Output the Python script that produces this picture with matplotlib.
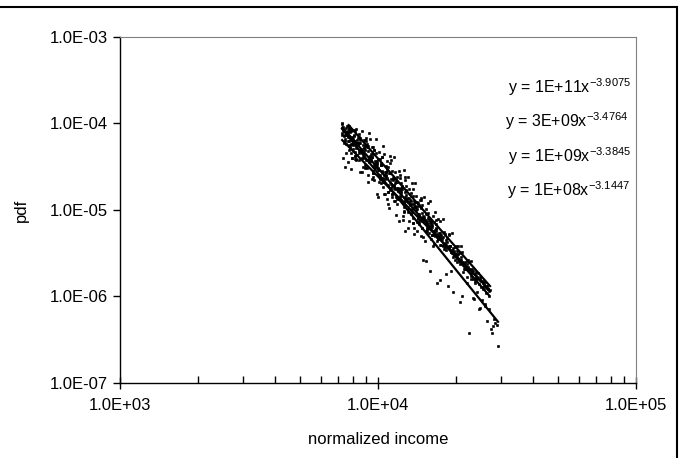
import numpy as np
import matplotlib.pyplot as plt
from matplotlib.patches import Rectangle
from matplotlib.ticker import FixedLocator, FuncFormatter, LogLocator, NullLocator

plt.rcParams['font.family'] = ['Liberation Sans', 'DejaVu Sans']
plt.rcParams['mathtext.fontset'] = 'custom'
plt.rcParams['mathtext.rm'] = 'Liberation Sans'

# values, stored as log10(normalized income) and log10(pdf)
log_x_a = [3.860, 3.866, 3.873, 3.880, 3.887, 3.894, 3.902, 3.910, 3.918, 3.926,
           3.934, 3.942, 3.950, 3.958, 3.966, 3.974, 3.982, 3.990, 3.998, 4.006,
           4.014, 4.022, 4.030, 4.038, 4.046, 4.054, 4.062, 4.070, 4.078, 4.086,
           4.094, 4.102, 4.110, 4.118, 4.126, 4.134, 4.142, 4.150, 4.158, 4.166,
           4.174, 4.182, 4.190, 4.202, 4.210, 4.218, 4.229, 4.236, 4.245, 4.254,
           4.263, 4.271, 4.280, 4.291, 4.300, 4.309, 4.318, 4.329, 4.338, 4.346,
           4.353, 4.362, 4.368, 4.376, 4.385, 4.395, 4.404, 4.413, 4.422, 4.431,
           4.437, 4.442, 4.448, 4.454, 4.461, 4.465,
           3.870, 3.884, 3.898, 3.912, 3.928, 3.946, 3.962, 3.978, 3.994, 4.010,
           4.026, 4.042, 4.058, 4.074, 4.090, 4.106, 4.122, 4.138, 4.154, 4.170,
           4.186, 4.198, 4.214, 4.240, 4.258, 4.282, 4.306, 4.326, 4.344, 4.372,
           4.390, 4.416, 4.446,
           4.205, 4.225, 4.245, 4.265, 4.285, 4.305, 4.325, 4.345, 4.365, 4.385,
           4.405, 4.425, 3.862, 3.872, 3.882, 3.892, 3.902, 3.912]
log_y_a = [-3.995, -4.075, -4.174, -4.100, -4.198, -4.336, -4.177, -4.328, -4.189, -4.340,
           -4.292, -4.503, -4.304, -4.235, -4.446, -4.358, -4.619, -4.470, -4.411, -4.632,
           -4.544, -4.815, -4.556, -4.707, -4.568, -4.850, -4.721, -5.062, -4.753, -4.864,
           -4.736, -5.017, -4.898, -5.209, -4.900, -5.092, -4.903, -5.244, -5.075, -4.976,
           -5.578, -5.139, -5.210, -5.707, -5.198, -5.239, -5.842, -5.269, -5.405, -5.400,
           -5.735, -5.876, -5.421, -5.944, -5.579, -5.514, -6.069, -5.712, -5.677, -5.839,
           -6.426, -5.801, -6.014, -5.845, -5.950, -6.130, -6.045, -6.090, -6.285, -6.150,
           -6.373, -6.423, -6.266, -6.310, -6.327, -6.573,
           -4.142, -4.087, -4.401, -4.226, -4.418, -4.278, -4.601, -4.393, -4.346, -4.688,
           -4.600, -4.973, -4.625, -4.878, -4.690, -5.242, -4.925, -5.207, -4.920, -5.212,
           -5.584, -5.121, -5.413, -5.805, -5.385, -5.709, -5.522, -6.000, -5.771, -6.030,
           -6.150, -6.111, -6.338,
           -5.149, -5.207, -5.325, -5.343, -5.461, -5.479, -5.597, -5.625, -5.733, -5.771,
           -5.889, -5.917, -4.131, -4.200, -4.199, -4.288, -4.297, -4.376]

log_x_b = [3.886, 3.893, 3.898, 3.887, 3.896, 3.905, 3.914, 3.923, 3.932, 3.941,
           3.950, 3.959, 3.968, 3.977, 3.986, 3.995, 4.004, 4.013, 4.022, 4.031,
           4.040, 4.049, 4.058, 4.067, 4.076, 4.085, 4.094, 4.103, 4.112, 4.121,
           4.130, 4.139, 4.148, 4.157, 4.166, 4.175, 4.184, 4.193, 4.203, 4.213,
           4.223, 4.233, 4.244, 4.255, 4.266, 4.277, 4.289, 4.301, 4.313, 4.326,
           4.339, 4.352, 4.366, 4.380, 4.394, 4.408, 4.421, 4.434,
           3.889, 3.895, 3.900, 3.892, 3.901, 3.910, 3.919, 3.928, 3.937, 3.946,
           3.955, 3.964, 3.973, 3.982, 3.991, 4.000, 4.009, 4.018, 4.027, 4.036,
           4.045, 4.054, 4.063, 4.072, 4.081, 4.090, 4.099, 4.108, 4.117, 4.126,
           4.135, 4.144, 4.153, 4.162, 4.171, 4.180, 4.190, 4.200, 4.210, 4.220,
           4.230, 4.240, 4.250, 4.262, 4.274, 4.286, 4.298, 4.310, 4.322, 4.335,
           4.348, 4.361, 4.374, 4.387, 4.400, 4.414, 4.427,
           3.891, 3.895, 3.910, 3.925, 3.940, 3.955, 3.970, 3.985, 4.000, 4.015,
           4.030, 4.045, 4.060, 4.075, 4.090, 4.105, 4.120, 4.135, 4.150, 4.165,
           4.180, 4.195, 4.210, 4.225, 4.240, 4.260, 4.280, 4.300, 4.320, 4.345,
           4.370, 4.395, 4.420]
log_y_b = [-4.030, -4.056, -4.070, -4.149, -4.070, -4.142, -4.063, -4.234, -4.166, -4.337,
           -4.188, -4.270, -4.181, -4.382, -4.303, -4.485, -4.326, -4.477, -4.349, -4.590,
           -4.501, -4.423, -4.654, -4.565, -4.777, -4.598, -4.719, -4.621, -4.862, -4.763,
           -4.685, -4.926, -4.837, -4.948, -4.860, -5.071, -4.993, -4.914, -5.139, -5.073,
           -5.158, -5.103, -5.291, -5.250, -5.328, -5.286, -5.438, -5.420, -5.501, -5.487,
           -5.602, -5.607, -5.686, -5.715, -5.793, -5.822, -5.877, -5.923,
           -4.050, -4.090, -4.165, -4.080, -4.238, -4.085, -4.220, -4.152, -4.083, -4.404,
           -4.206, -4.107, -4.438, -4.270, -4.181, -4.592, -4.413, -4.255, -4.646, -4.437,
           -4.379, -4.810, -4.391, -4.743, -4.554, -4.885, -4.537, -4.828, -4.619, -5.041,
           -4.752, -4.683, -5.065, -4.886, -5.207, -4.849, -5.144, -4.898, -5.293, -5.028,
           -5.313, -5.127, -5.102, -5.404, -5.276, -5.267, -5.509, -5.421, -5.413, -5.618,
           -5.583, -5.588, -5.744, -5.729, -5.824, -5.833, -5.908,
           -4.095, -4.077, -4.199, -4.121, -4.253, -4.166, -4.378, -4.310, -4.512, -4.384,
           -4.557, -4.459, -4.711, -4.613, -4.745, -4.658, -4.910, -4.842, -4.984, -4.886,
           -5.109, -5.031, -5.173, -5.115, -5.297, -5.277, -5.417, -5.426, -5.546, -5.593,
           -5.710, -5.777, -5.874]

log_x_c = [3.862, 3.871, 3.880, 3.890, 3.900, 3.910, 3.920, 3.930, 3.940, 3.950,
           3.960, 3.970, 3.980, 3.990, 4.000, 4.010, 4.020, 4.030, 4.040, 4.050,
           4.060, 4.070, 4.080, 4.090, 4.100, 4.110, 4.120, 4.130, 4.140, 4.150,
           4.160, 4.170, 4.180, 4.190, 4.201, 4.212, 4.223, 4.234, 4.245, 4.257,
           4.269, 4.281, 4.294, 4.307, 4.320, 4.334, 4.348, 4.362, 4.377, 4.392,
           4.406, 4.420, 4.430,
           3.866, 3.876, 3.886, 3.896, 3.906, 3.916, 3.926, 3.936, 3.946, 3.956,
           3.966, 3.976, 3.986, 3.996, 4.006, 4.016, 4.026, 4.036, 4.046, 4.056,
           4.066, 4.076, 4.086, 4.096, 4.106, 4.116, 4.126, 4.136, 4.146, 4.156,
           4.166, 4.176, 4.186, 4.196, 4.207, 4.218, 4.229, 4.240, 4.252, 4.264,
           4.276, 4.290, 4.304, 4.318, 4.340, 4.370, 4.400,
           3.875, 3.883, 3.891, 3.899, 3.907, 3.915, 3.923, 3.931, 3.939, 3.947,
           3.955, 3.963, 3.971, 3.979, 3.987, 3.995, 4.003, 4.011, 4.019, 4.027,
           4.035, 4.043, 4.051, 4.059, 4.067, 4.075, 4.083, 4.091, 4.099, 4.107,
           4.115, 4.123, 4.131, 4.139, 4.147, 4.155, 4.163, 4.171, 4.179, 4.187,
           4.195, 4.205, 4.215, 4.225, 4.235]
log_y_c = [-4.011, -4.131, -4.032, -4.256, -4.159, -4.373, -4.247, -4.221, -4.385, -4.259,
           -4.423, -4.386, -4.570, -4.434, -4.538, -4.482, -4.676, -4.609, -4.793, -4.647,
           -4.751, -4.675, -4.869, -4.803, -5.026, -4.890, -4.864, -5.018, -4.962, -5.136,
           -5.050, -5.133, -5.077, -5.241, -5.198, -5.286, -5.243, -5.340, -5.337, -5.448,
           -5.428, -5.489, -5.503, -5.597, -5.611, -5.678, -5.696, -5.763, -5.825, -5.855,
           -5.912, -5.960, -5.993,
           -4.044, -4.238, -4.062, -4.236, -4.080, -4.424, -4.227, -4.401, -4.185, -4.519,
           -4.393, -4.267, -4.651, -4.434, -4.598, -4.382, -4.816, -4.540, -4.774, -4.547,
           -4.901, -4.745, -4.629, -5.073, -4.797, -5.021, -4.804, -5.148, -4.962, -5.106,
           -4.960, -5.314, -5.118, -5.271, -5.129, -5.396, -5.273, -5.400, -5.311, -5.462,
           -5.422, -5.540, -5.537, -5.624, -5.669, -5.800, -5.892,
           -4.052, -4.159, -4.065, -4.182, -4.138, -4.285, -4.231, -4.188, -4.334, -4.281,
           -4.427, -4.314, -4.410, -4.356, -4.513, -4.459, -4.536, -4.452, -4.629, -4.555,
           -4.632, -4.578, -4.745, -4.641, -4.758, -4.674, -4.781, -4.757, -4.894, -4.770,
           -4.907, -4.883, -4.990, -4.896, -5.003, -4.959, -5.115, -5.032, -5.128, -5.045,
           -5.161, -5.135, -5.258, -5.221, -5.304]

log_x_d = [3.861, 3.864, 3.870, 3.872, 3.878, 3.884, 3.888, 3.899, 3.905, 3.915,
           3.925, 3.938, 3.946, 3.955, 3.961, 3.970, 3.980, 3.990, 3.996, 4.005,
           4.015, 4.025, 4.035, 4.045, 4.055, 4.065, 4.075, 4.085, 4.095, 4.105,
           4.115, 4.125, 4.135, 4.145, 4.155, 4.165, 4.176, 4.187, 4.198, 4.210,
           4.222, 4.234, 4.247, 4.260, 4.274, 4.288, 4.302, 4.317, 4.332, 4.347,
           4.362, 4.378, 4.394, 4.410, 4.420, 4.430,
           3.867, 3.876, 3.885, 3.894, 3.903, 3.912, 3.921, 3.930, 3.942, 3.951,
           3.960, 3.975, 3.985, 4.000, 4.010, 4.020, 4.030, 4.040, 4.050, 4.060,
           4.070, 4.080, 4.090, 4.100, 4.110, 4.120, 4.130, 4.140, 4.150, 4.160,
           4.170, 4.181, 4.192, 4.204, 4.216, 4.228, 4.240, 4.253, 4.267, 4.281,
           4.295, 4.325, 4.355, 4.385, 4.415,
           3.874, 3.889, 3.904, 3.919, 3.934, 3.949, 3.964, 3.979, 3.994, 4.009,
           4.024, 4.039, 4.054, 4.069, 4.084, 4.099, 4.114, 4.129, 4.144, 4.159,
           4.174, 4.189, 4.204, 4.219, 4.236, 4.256, 4.276, 4.296, 4.320, 4.350,
           4.380, 4.405]
log_y_d = [-4.112, -4.402, -4.220, -4.507, -4.136, -4.444, -4.247, -4.402, -4.201, -4.412,
           -4.323, -4.564, -4.359, -4.508, -4.677, -4.395, -4.546, -4.508, -4.817, -4.675,
           -4.556, -4.678, -4.869, -4.671, -4.812, -4.684, -4.935, -4.837, -5.118, -4.850,
           -4.991, -4.942, -5.154, -4.955, -5.087, -5.298, -5.093, -5.247, -5.182, -5.289,
           -5.237, -5.335, -5.336, -5.427, -5.431, -5.495, -5.509, -5.576, -5.633, -5.661,
           -5.718, -5.768, -5.808, -5.869, -5.900, -5.932,
           -4.091, -4.339, -4.098, -4.526, -4.244, -4.413, -4.171, -4.559, -4.317, -4.485,
           -4.264, -4.641, -4.482, -4.849, -4.481, -4.732, -4.494, -4.925, -4.697, -4.898,
           -4.649, -5.131, -4.782, -4.934, -4.725, -5.127, -4.928, -5.280, -4.911, -5.163,
           -4.944, -5.359, -5.093, -5.341, -5.139, -5.356, -5.264, -5.415, -5.369, -5.483,
           -5.477, -5.601, -5.686, -5.800, -5.884,
           -4.133, -4.310, -4.187, -4.365, -4.302, -4.519, -4.426, -4.573, -4.460, -4.638,
           -4.595, -4.792, -4.719, -4.846, -4.763, -4.961, -4.888, -5.005, -4.962, -5.139,
           -5.097, -5.214, -5.171, -5.298, -5.301, -5.404, -5.427, -5.520, -5.576, -5.680,
           -5.785, -5.843]

series = [(log_x_a, log_y_a), (log_x_b, log_y_b), (log_x_c, log_y_c), (log_x_d, log_y_d)]
coefficients = ['1E+11', '3E+09', '1E+09', '1E+08']
exponents = ['-3.9075', '-3.4764', '-3.3845', '-3.1447']

fig = plt.figure(figsize=(6.82, 4.58), dpi=100)
ax = fig.add_axes([0.176, 0.1638, 0.7566, 0.7554])

for lx, ly in series:
    lx = np.array(lx)
    ly = np.array(ly)
    ax.plot(10 ** lx, 10 ** ly, 's', color='black', ms=1.4, mew=0.5, mec='black')
    k, b = np.polyfit(lx, ly, 1)
    xs = np.array([lx.min(), lx.max()])
    ax.plot(10 ** xs, 10 ** (k * xs + b), color='black', lw=1.6)

ax.set_xscale('log')
ax.set_yscale('log')
ax.set_xlim(1e3, 1e5)
ax.set_ylim(1e-7, 1e-3)

fmt = FuncFormatter(lambda v, p: f'{v:.1E}')
ax.xaxis.set_major_locator(FixedLocator([1e3, 1e4, 1e5]))
ax.xaxis.set_minor_locator(LogLocator(base=10, subs=np.arange(2, 10)))
ax.xaxis.set_major_formatter(fmt)
ax.xaxis.set_minor_formatter(FuncFormatter(lambda v, p: ''))
ax.yaxis.set_major_locator(FixedLocator([1e-7, 1e-6, 1e-5, 1e-4, 1e-3]))
ax.yaxis.set_minor_locator(NullLocator())
ax.yaxis.set_major_formatter(fmt)

ax.tick_params(axis='x', which='major', direction='inout', length=9, width=1, labelsize=12, pad=6)
ax.tick_params(axis='x', which='minor', direction='in', length=5, width=1)
ax.tick_params(axis='y', which='major', direction='out', length=5, width=1, labelsize=12, pad=4)

for s in ['top', 'right']:
    ax.spines[s].set_color('#808080')
for s in ['left', 'bottom']:
    ax.spines[s].set_color('black')
    ax.spines[s].set_linewidth(1.0)

ax.set_xlabel('normalized income', fontsize=12, labelpad=14)
ax.set_ylabel('pdf', fontsize=12, labelpad=15)

eq_x = [0.752, 0.746, 0.752, 0.750]
eq_y = [0.855, 0.757, 0.656, 0.558]
for c, e, tx, ty in zip(coefficients, exponents, eq_x, eq_y):
    ax.text(tx, ty, 'y = ' + c + 'x' + r'$\mathregular{^{' + e + '}}$',
            transform=ax.transAxes, fontsize=11.5, ha='left', va='center')

fig.patches.append(Rectangle((-0.01, -0.01), 0.9927 + 0.01, 0.9847 + 0.01,
                             transform=fig.transFigure, fill=False,
                             edgecolor='black', lw=1.5))

fig.savefig('out.png', dpi=100)
